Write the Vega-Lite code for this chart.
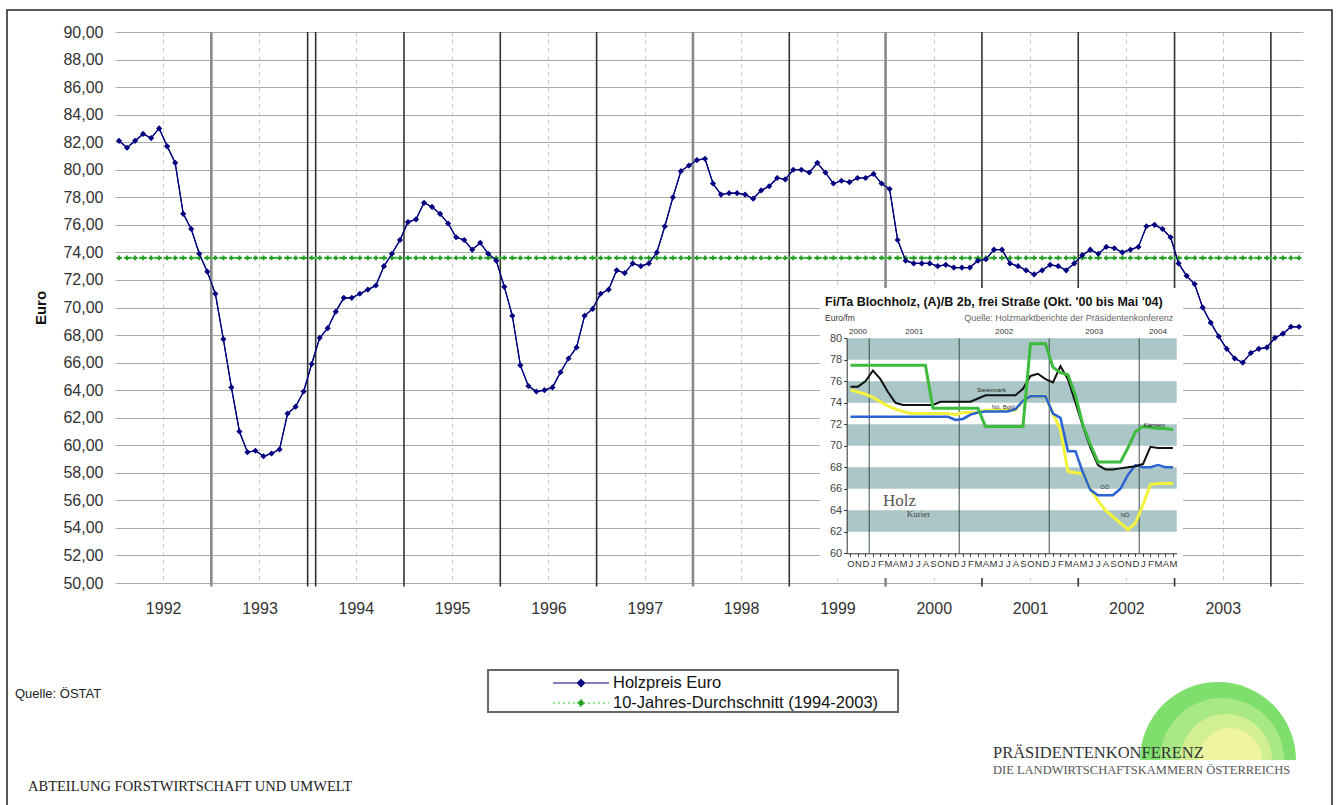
{
  "$schema": "https://vega.github.io/schema/vega-lite/v6.json",
  "width": 1188,
  "height": 551,
  "autosize": {"type": "none"},
  "padding": {"left": 115, "top": 32, "right": 37, "bottom": 222},
  "background": "white",
  "config": {"font": "Liberation Sans", "view": {"stroke": null}},
  "datasets": {
    "main": [
      {"n":0,"preis":82.1,"schnitt":73.6},{"n":1,"preis":81.6,"schnitt":73.6},{"n":2,"preis":82.1,"schnitt":73.6},{"n":3,"preis":82.6,"schnitt":73.6},{"n":4,"preis":82.3,"schnitt":73.6},{"n":5,"preis":83.0,"schnitt":73.6},{"n":6,"preis":81.7,"schnitt":73.6},{"n":7,"preis":80.5,"schnitt":73.6},{"n":8,"preis":76.8,"schnitt":73.6},{"n":9,"preis":75.7,"schnitt":73.6},{"n":10,"preis":73.9,"schnitt":73.6},{"n":11,"preis":72.6,"schnitt":73.6},
      {"n":12,"preis":71.0,"schnitt":73.6},{"n":13,"preis":67.7,"schnitt":73.6},{"n":14,"preis":64.2,"schnitt":73.6},{"n":15,"preis":61.0,"schnitt":73.6},{"n":16,"preis":59.5,"schnitt":73.6},{"n":17,"preis":59.6,"schnitt":73.6},{"n":18,"preis":59.2,"schnitt":73.6},{"n":19,"preis":59.4,"schnitt":73.6},{"n":20,"preis":59.7,"schnitt":73.6},{"n":21,"preis":62.3,"schnitt":73.6},{"n":22,"preis":62.8,"schnitt":73.6},{"n":23,"preis":63.9,"schnitt":73.6},
      {"n":24,"preis":65.9,"schnitt":73.6},{"n":25,"preis":67.8,"schnitt":73.6},{"n":26,"preis":68.5,"schnitt":73.6},{"n":27,"preis":69.7,"schnitt":73.6},{"n":28,"preis":70.7,"schnitt":73.6},{"n":29,"preis":70.7,"schnitt":73.6},{"n":30,"preis":71.0,"schnitt":73.6},{"n":31,"preis":71.3,"schnitt":73.6},{"n":32,"preis":71.6,"schnitt":73.6},{"n":33,"preis":73.0,"schnitt":73.6},{"n":34,"preis":73.9,"schnitt":73.6},{"n":35,"preis":74.9,"schnitt":73.6},
      {"n":36,"preis":76.2,"schnitt":73.6},{"n":37,"preis":76.4,"schnitt":73.6},{"n":38,"preis":77.6,"schnitt":73.6},{"n":39,"preis":77.3,"schnitt":73.6},{"n":40,"preis":76.8,"schnitt":73.6},{"n":41,"preis":76.1,"schnitt":73.6},{"n":42,"preis":75.1,"schnitt":73.6},{"n":43,"preis":74.9,"schnitt":73.6},{"n":44,"preis":74.2,"schnitt":73.6},{"n":45,"preis":74.7,"schnitt":73.6},{"n":46,"preis":73.9,"schnitt":73.6},{"n":47,"preis":73.4,"schnitt":73.6},
      {"n":48,"preis":71.5,"schnitt":73.6},{"n":49,"preis":69.4,"schnitt":73.6},{"n":50,"preis":65.8,"schnitt":73.6},{"n":51,"preis":64.3,"schnitt":73.6},{"n":52,"preis":63.9,"schnitt":73.6},{"n":53,"preis":64.0,"schnitt":73.6},{"n":54,"preis":64.2,"schnitt":73.6},{"n":55,"preis":65.3,"schnitt":73.6},{"n":56,"preis":66.3,"schnitt":73.6},{"n":57,"preis":67.1,"schnitt":73.6},{"n":58,"preis":69.4,"schnitt":73.6},{"n":59,"preis":69.9,"schnitt":73.6},
      {"n":60,"preis":71.0,"schnitt":73.6},{"n":61,"preis":71.3,"schnitt":73.6},{"n":62,"preis":72.7,"schnitt":73.6},{"n":63,"preis":72.5,"schnitt":73.6},{"n":64,"preis":73.2,"schnitt":73.6},{"n":65,"preis":73.0,"schnitt":73.6},{"n":66,"preis":73.2,"schnitt":73.6},{"n":67,"preis":74.0,"schnitt":73.6},{"n":68,"preis":75.9,"schnitt":73.6},{"n":69,"preis":78.0,"schnitt":73.6},{"n":70,"preis":79.9,"schnitt":73.6},{"n":71,"preis":80.3,"schnitt":73.6},
      {"n":72,"preis":80.7,"schnitt":73.6},{"n":73,"preis":80.8,"schnitt":73.6},{"n":74,"preis":79.0,"schnitt":73.6},{"n":75,"preis":78.2,"schnitt":73.6},{"n":76,"preis":78.3,"schnitt":73.6},{"n":77,"preis":78.3,"schnitt":73.6},{"n":78,"preis":78.2,"schnitt":73.6},{"n":79,"preis":77.9,"schnitt":73.6},{"n":80,"preis":78.5,"schnitt":73.6},{"n":81,"preis":78.8,"schnitt":73.6},{"n":82,"preis":79.4,"schnitt":73.6},{"n":83,"preis":79.3,"schnitt":73.6},
      {"n":84,"preis":80.0,"schnitt":73.6},{"n":85,"preis":80.0,"schnitt":73.6},{"n":86,"preis":79.8,"schnitt":73.6},{"n":87,"preis":80.5,"schnitt":73.6},{"n":88,"preis":79.8,"schnitt":73.6},{"n":89,"preis":79.0,"schnitt":73.6},{"n":90,"preis":79.2,"schnitt":73.6},{"n":91,"preis":79.1,"schnitt":73.6},{"n":92,"preis":79.4,"schnitt":73.6},{"n":93,"preis":79.4,"schnitt":73.6},{"n":94,"preis":79.7,"schnitt":73.6},{"n":95,"preis":79.0,"schnitt":73.6},
      {"n":96,"preis":78.6,"schnitt":73.6},{"n":97,"preis":74.9,"schnitt":73.6},{"n":98,"preis":73.4,"schnitt":73.6},{"n":99,"preis":73.2,"schnitt":73.6},{"n":100,"preis":73.2,"schnitt":73.6},{"n":101,"preis":73.2,"schnitt":73.6},{"n":102,"preis":73.0,"schnitt":73.6},{"n":103,"preis":73.1,"schnitt":73.6},{"n":104,"preis":72.9,"schnitt":73.6},{"n":105,"preis":72.9,"schnitt":73.6},{"n":106,"preis":72.9,"schnitt":73.6},{"n":107,"preis":73.4,"schnitt":73.6},
      {"n":108,"preis":73.5,"schnitt":73.6},{"n":109,"preis":74.2,"schnitt":73.6},{"n":110,"preis":74.2,"schnitt":73.6},{"n":111,"preis":73.2,"schnitt":73.6},{"n":112,"preis":73.0,"schnitt":73.6},{"n":113,"preis":72.7,"schnitt":73.6},{"n":114,"preis":72.4,"schnitt":73.6},{"n":115,"preis":72.7,"schnitt":73.6},{"n":116,"preis":73.1,"schnitt":73.6},{"n":117,"preis":73.0,"schnitt":73.6},{"n":118,"preis":72.7,"schnitt":73.6},{"n":119,"preis":73.2,"schnitt":73.6},
      {"n":120,"preis":73.8,"schnitt":73.6},{"n":121,"preis":74.2,"schnitt":73.6},{"n":122,"preis":73.9,"schnitt":73.6},{"n":123,"preis":74.4,"schnitt":73.6},{"n":124,"preis":74.3,"schnitt":73.6},{"n":125,"preis":74.0,"schnitt":73.6},{"n":126,"preis":74.2,"schnitt":73.6},{"n":127,"preis":74.4,"schnitt":73.6},{"n":128,"preis":75.9,"schnitt":73.6},{"n":129,"preis":76.0,"schnitt":73.6},{"n":130,"preis":75.7,"schnitt":73.6},{"n":131,"preis":75.1,"schnitt":73.6},
      {"n":132,"preis":73.2,"schnitt":73.6},{"n":133,"preis":72.3,"schnitt":73.6},{"n":134,"preis":71.7,"schnitt":73.6},{"n":135,"preis":70.0,"schnitt":73.6},{"n":136,"preis":68.9,"schnitt":73.6},{"n":137,"preis":67.9,"schnitt":73.6},{"n":138,"preis":67.0,"schnitt":73.6},{"n":139,"preis":66.3,"schnitt":73.6},{"n":140,"preis":66.0,"schnitt":73.6},{"n":141,"preis":66.7,"schnitt":73.6},{"n":142,"preis":67.0,"schnitt":73.6},{"n":143,"preis":67.1,"schnitt":73.6},
      {"n":144,"preis":67.8,"schnitt":73.6},{"n":145,"preis":68.1,"schnitt":73.6},{"n":146,"preis":68.6,"schnitt":73.6},{"n":147,"preis":68.6,"schnitt":73.6}
    ],
    "inset": [
      {"m":0,"gruen":77.5,"schwarz":75.5,"blau":72.7,"gelb":75.2},{"m":1,"gruen":77.5,"schwarz":75.5,"blau":72.7,"gelb":75.0},{"m":2,"gruen":77.5,"schwarz":76.0,"blau":72.7,"gelb":74.8},{"m":3,"gruen":77.5,"schwarz":77.0,"blau":72.7,"gelb":74.5},{"m":4,"gruen":77.5,"schwarz":76.2,"blau":72.7,"gelb":74.1},{"m":5,"gruen":77.5,"schwarz":75.0,"blau":72.7,"gelb":73.7},{"m":6,"gruen":77.5,"schwarz":74.0,"blau":72.7,"gelb":73.4},{"m":7,"gruen":77.5,"schwarz":73.8,"blau":72.7,"gelb":73.2},{"m":8,"gruen":77.5,"schwarz":73.8,"blau":72.7,"gelb":73.0},{"m":9,"gruen":77.5,"schwarz":73.8,"blau":72.7,"gelb":73.0},{"m":10,"gruen":77.5,"schwarz":73.8,"blau":72.7,"gelb":73.0},
      {"m":11,"gruen":73.5,"schwarz":73.8,"blau":72.7,"gelb":73.0},{"m":12,"gruen":73.5,"schwarz":74.1,"blau":72.7,"gelb":73.0},{"m":13,"gruen":73.5,"schwarz":74.1,"blau":72.7,"gelb":73.0},{"m":14,"gruen":73.5,"schwarz":74.1,"blau":72.4,"gelb":72.9},{"m":15,"gruen":73.5,"schwarz":74.1,"blau":72.5,"gelb":73.1},{"m":16,"gruen":73.5,"schwarz":74.1,"blau":72.9,"gelb":73.1},{"m":17,"gruen":73.5,"schwarz":74.4,"blau":73.1,"gelb":73.1},
      {"m":18,"gruen":71.8,"schwarz":74.7,"blau":73.2,"gelb":73.3},{"m":19,"gruen":71.8,"schwarz":74.7,"blau":73.2,"gelb":73.3},{"m":20,"gruen":71.8,"schwarz":74.7,"blau":73.2,"gelb":73.3},{"m":21,"gruen":71.8,"schwarz":74.7,"blau":73.2,"gelb":73.3},{"m":22,"gruen":71.8,"schwarz":74.7,"blau":73.4,"gelb":73.3},{"m":23,"gruen":71.8,"schwarz":75.3,"blau":74.2,"gelb":74.2},
      {"m":24,"gruen":79.5,"schwarz":76.5,"blau":74.6,"gelb":74.6},{"m":25,"gruen":79.5,"schwarz":76.7,"blau":74.6,"gelb":74.6},{"m":26,"gruen":79.5,"schwarz":76.2,"blau":74.6,"gelb":74.6},{"m":27,"gruen":77.3,"schwarz":75.9,"blau":73.0,"gelb":73.0},{"m":28,"gruen":76.8,"schwarz":77.4,"blau":72.6,"gelb":71.5},{"m":29,"gruen":76.6,"schwarz":76.2,"blau":69.5,"gelb":67.6},{"m":30,"gruen":74.7,"schwarz":74.0,"blau":69.5,"gelb":67.5},
      {"m":31,"gruen":71.9,"schwarz":71.8,"blau":67.5,"gelb":67.4},{"m":32,"gruen":70.1,"schwarz":69.8,"blau":65.9,"gelb":66.0},{"m":33,"gruen":68.5,"schwarz":68.2,"blau":65.4,"gelb":64.9},{"m":34,"gruen":68.5,"schwarz":67.8,"blau":65.4,"gelb":64.0},{"m":35,"gruen":68.5,"schwarz":67.8,"blau":65.4,"gelb":63.4},{"m":36,"gruen":68.5,"schwarz":67.9,"blau":66.0,"gelb":62.8},{"m":37,"gruen":69.8,"schwarz":68.0,"blau":67.3,"gelb":62.2},
      {"m":38,"gruen":71.3,"schwarz":68.1,"blau":68.2,"gelb":62.8},{"m":39,"gruen":71.8,"schwarz":68.3,"blau":68.0,"gelb":64.5},{"m":40,"gruen":71.7,"schwarz":69.9,"blau":68.0,"gelb":66.4},{"m":41,"gruen":71.6,"schwarz":69.8,"blau":68.2,"gelb":66.5},{"m":42,"gruen":71.6,"schwarz":69.8,"blau":68.0,"gelb":66.5},{"m":43,"gruen":71.5,"schwarz":69.8,"blau":68.0,"gelb":66.5}
    ]
  },
  "layer": [
    {
      "layer": [
        {
          "data": {"name": "main"},
          "mark": {"type": "line", "strokeWidth": 1.2},
          "encoding": {
            "x": {
              "field": "n", "type": "quantitative",
              "scale": {"domain": [-0.5, 147.5], "nice": false, "zero": false},
              "axis": {
                "values": [5.5, 17.5, 29.5, 41.5, 53.5, 65.5, 77.5, 89.5, 101.5, 113.5, 125.5, 137.5],
                "tickCount": 100,
                "labelExpr": "'' + (1992 + floor(datum.value / 12))",
                "grid": true, "gridDash": [4, 4], "gridColor": "#c8c8c8",
                "ticks": false, "tickSize": 0, "domain": false, "labelOverlap": false,
                "labelPadding": 17, "labelFontSize": 16, "labelColor": "#333",
                "title": null
              }
            },
            "y": {
              "field": "preis", "type": "quantitative",
              "scale": {"domain": [50, 90], "nice": false, "zero": false},
              "axis": {
                "values": [50, 52, 54, 56, 58, 60, 62, 64, 66, 68, 70, 72, 74, 76, 78, 80, 82, 84, 86, 88, 90],
                "tickCount": 100,
                "labelExpr": "replace(format(datum.value, '.2f'), '.', ',')",
                "grid": true, "gridColor": "#aaaaaa",
                "ticks": false, "tickSize": 0, "domain": false, "labelOverlap": false,
                "labelPadding": 12, "labelFontSize": 16, "labelColor": "#333",
                "title": "Euro", "titleFontSize": 15, "titleFontWeight": "bold", "titleColor": "#111", "titlePadding": 14
              }
            },
            "color": {
              "datum": "Holzpreis Euro", "type": "nominal",
              "scale": {"domain": ["Holzpreis Euro", "10-Jahres-Durchschnitt (1994-2003)"], "range": ["#000080", "#33cc33"]},
              "legend": {
                "orient": "none", "legendX": 457, "legendY": 642, "title": null, "padding": 0,
                "symbolType": "M-3.5,0H3.5M0,-0.45L0.45,0L0,0.45L-0.45,0Z",
                "symbolSize": 256, "symbolStrokeWidth": 1.2,
                "labelFontSize": 16.5, "labelOffset": 23, "rowPadding": 2, "labelColor": "#111", "labelLimit": 500,
                "encode": {
                  "symbols": {
                    "update": {
                      "fill": {"signal": "datum.value === 'Holzpreis Euro' ? '#000080' : '#2a9a2a'"},
                      "strokeDash": {"signal": "datum.value === 'Holzpreis Euro' ? [1, 0] : [2, 3]"}
                    }
                  }
                }
              }
            }
          }
        },
        {
          "data": {"values": [{}]},
          "mark": {"type": "rect", "filled": false, "color": "#222", "strokeWidth": 1.5},
          "encoding": {
            "x": {"datum": -13.955, "type": "quantitative"},
            "x2": {"datum": 151.11},
            "y": {"datum": 91.597, "type": "quantitative"},
            "y2": {"datum": 32.07}
          }
        },
        {
          "data": {"values": [{}]},
          "mark": {"type": "rect", "filled": false, "color": "#666", "strokeWidth": 2},
          "encoding": {
            "x": {"datum": 45.97, "type": "quantitative"},
            "x2": {"datum": 97.05},
            "y": {"datum": 43.68, "type": "quantitative"},
            "y2": {"datum": 40.64}
          }
        },
        {
          "data": {"values": [{"grenze": 23.5}, {"grenze": 24.5}, {"grenze": 35.5}, {"grenze": 47.5}, {"grenze": 59.5}, {"grenze": 83.5}, {"grenze": 107.5}, {"grenze": 119.5}, {"grenze": 131.5}, {"grenze": 143.5}]},
          "mark": {"type": "rule", "color": "#333", "strokeWidth": 1.6},
          "encoding": {
            "x": {"field": "grenze", "type": "quantitative"},
            "y": {"datum": 90, "type": "quantitative"},
            "y2": {"datum": 49.75}
          }
        },
        {
          "data": {"values": [{"grenze": 11.5}, {"grenze": 71.5}, {"grenze": 95.5}]},
          "mark": {"type": "rule", "color": "#8a8a8a", "strokeWidth": 2.6},
          "encoding": {
            "x": {"field": "grenze", "type": "quantitative"},
            "y": {"datum": 90, "type": "quantitative"},
            "y2": {"datum": 49.75}
          }
        },
        {
          "data": {"name": "main"},
          "mark": {"type": "line", "strokeWidth": 2.2, "strokeDash": [3, 2]},
          "encoding": {
            "x": {"field": "n", "type": "quantitative"},
            "y": {"field": "schnitt", "type": "quantitative"},
            "color": {"datum": "10-Jahres-Durchschnitt (1994-2003)", "type": "nominal"}
          }
        },
        {
          "data": {"name": "main"},
          "mark": {"type": "point", "shape": "cross", "filled": true, "color": "#2a9a2a", "size": 24, "opacity": 1},
          "encoding": {
            "x": {"field": "n", "type": "quantitative"},
            "y": {"field": "schnitt", "type": "quantitative"}
          }
        },
        {
          "data": {"name": "main"},
          "mark": {"type": "line", "strokeWidth": 1.2, "color": "#000080"},
          "encoding": {
            "x": {"field": "n", "type": "quantitative"},
            "y": {"field": "preis", "type": "quantitative"}
          }
        },
        {
          "data": {"name": "main"},
          "mark": {"type": "point", "shape": "diamond", "filled": true, "color": "#000080", "size": 38, "opacity": 1},
          "encoding": {
            "x": {"field": "n", "type": "quantitative"},
            "y": {"field": "preis", "type": "quantitative"}
          }
        },
        {
          "data": {"values": [{}]},
          "mark": {"type": "arc", "theta": -1.5708, "theta2": 1.5708, "radius": 78, "color": "#7fdf6c"},
          "encoding": {"x": {"datum": 136.91, "type": "quantitative"}, "y": {"datum": 37.15, "type": "quantitative"}}
        },
        {
          "data": {"values": [{}]},
          "mark": {"type": "arc", "theta": -1.5708, "theta2": 1.5708, "radius": 62, "color": "#a9e985"},
          "encoding": {"x": {"datum": 137.41, "type": "quantitative"}, "y": {"datum": 37.15, "type": "quantitative"}}
        },
        {
          "data": {"values": [{}]},
          "mark": {"type": "arc", "theta": -1.5708, "theta2": 1.5708, "radius": 46, "color": "#d2ef92"},
          "encoding": {"x": {"datum": 137.91, "type": "quantitative"}, "y": {"datum": 37.15, "type": "quantitative"}}
        },
        {
          "data": {"values": [{}]},
          "mark": {"type": "arc", "theta": -1.5708, "theta2": 1.5708, "radius": 32, "color": "#eef4a0"},
          "encoding": {"x": {"datum": 138.41, "type": "quantitative"}, "y": {"datum": 37.15, "type": "quantitative"}}
        },
        {
          "data": {"values": [{}]},
          "mark": {"type": "text", "text": "Quelle: ÖSTAT", "align": "left", "baseline": "middle", "fontSize": 13, "color": "#222"},
          "encoding": {"x": {"datum": -12.96, "type": "quantitative"}, "y": {"datum": 41.94, "type": "quantitative"}}
        },
        {
          "data": {"values": [{}]},
          "mark": {"type": "text", "text": "ABTEILUNG FORSTWIRTSCHAFT UND UMWELT", "align": "left", "baseline": "middle", "fontSize": 14.5, "font": "Liberation Serif", "color": "#222"},
          "encoding": {"x": {"datum": -11.34, "type": "quantitative"}, "y": {"datum": 35.19, "type": "quantitative"}}
        },
        {
          "data": {"values": [{}]},
          "mark": {"type": "text", "text": "PRÄSIDENTENKONFERENZ", "align": "left", "baseline": "middle", "fontSize": 16.5, "font": "Liberation Serif", "color": "#333"},
          "encoding": {"x": {"datum": 108.88, "type": "quantitative"}, "y": {"datum": 37.66, "type": "quantitative"}}
        },
        {
          "data": {"values": [{}]},
          "mark": {"type": "text", "text": "DIE LANDWIRTSCHAFTSKAMMERN ÖSTERREICHS", "align": "left", "baseline": "middle", "fontSize": 12.5, "font": "Liberation Serif", "color": "#555"},
          "encoding": {"x": {"datum": 108.88, "type": "quantitative"}, "y": {"datum": 36.42, "type": "quantitative"}}
        }
      ]
    },
    {
      "layer": [
        {
          "data": {"name": "inset"},
          "mark": {"type": "line", "color": "#f2f23a", "strokeWidth": 3, "opacity": 0},
          "encoding": {
            "x": {
              "field": "m", "type": "quantitative",
              "scale": {"domain": [-0.5, 43.5], "range": [731.7, 1061.7], "nice": false, "zero": false},
              "axis": {
                "orient": "bottom", "offset": -29.7,
                "values": [0,1,2,3,4,5,6,7,8,9,10,11,12,13,14,15,16,17,18,19,20,21,22,23,24,25,26,27,28,29,30,31,32,33,34,35,36,37,38,39,40,41,42,43],
                "tickCount": 100,
                "labelExpr": "substring('ONDJFMAMJJAS', datum.value % 12, datum.value % 12 + 1)",
                "labelFontSize": 9.5, "labelPadding": 2, "tickSize": 3, "tickColor": "#333", "domainColor": "#333",
                "labelOverlap": false, "labelBound": false, "labelFlush": false, "labelColor": "#333",
                "grid": false, "title": null, "zindex": 1
              }
            },
            "y": {
              "field": "gelb", "type": "quantitative",
              "scale": {"domain": [60, 80], "range": [521.3, 306.3], "nice": false, "zero": false},
              "axis": {
                "orient": "left", "offset": -731.7,
                "values": [60, 62, 64, 66, 68, 70, 72, 74, 76, 78, 80],
                "format": "d",
                "tickCount": 100, "labelOverlap": false,
                "labelFontSize": 11, "labelPadding": 2, "tickSize": 3, "tickColor": "#333", "domainColor": "#333",
                "labelColor": "#444", "grid": false, "title": null, "zindex": 1
              }
            }
          }
        },
        {
          "data": {"values": [{}]},
          "mark": {"type": "rect", "color": "white"},
          "encoding": {
            "x": {"datum": -4.06, "type": "quantitative"},
            "x2": {"datum": 44.34},
            "y": {"datum": 84.68, "type": "quantitative"},
            "y2": {"datum": 57.7}
          }
        },
        {
          "data": {"values": [{"von": 62, "bis": 64}, {"von": 66, "bis": 68}, {"von": 70, "bis": 72}, {"von": 74, "bis": 76}, {"von": 78, "bis": 80}]},
          "mark": {"type": "rect", "color": "#abc6c6"},
          "encoding": {
            "x": {"datum": -0.5, "type": "quantitative"},
            "x2": {"datum": 43.5},
            "y": {"field": "von", "type": "quantitative"},
            "y2": {"field": "bis"}
          }
        },
        {
          "data": {"values": [{"m": 2.5}, {"m": 14.5}, {"m": 26.5}, {"m": 38.5}]},
          "mark": {"type": "rule", "color": "#3d4d4d", "strokeWidth": 1},
          "encoding": {
            "x": {"field": "m", "type": "quantitative"},
            "y": {"datum": 60, "type": "quantitative"},
            "y2": {"datum": 80}
          }
        },
        {
          "data": {"name": "inset"},
          "mark": {"type": "line", "color": "#f2f23a", "strokeWidth": 3},
          "encoding": {
            "x": {"field": "m", "type": "quantitative"},
            "y": {"field": "gelb", "type": "quantitative"}
          }
        },
        {
          "data": {"name": "inset"},
          "mark": {"type": "line", "color": "#2a63d4", "strokeWidth": 2.5},
          "encoding": {
            "x": {"field": "m", "type": "quantitative"},
            "y": {"field": "blau", "type": "quantitative"}
          }
        },
        {
          "data": {"name": "inset"},
          "mark": {"type": "line", "color": "#111", "strokeWidth": 2},
          "encoding": {
            "x": {"field": "m", "type": "quantitative"},
            "y": {"field": "schwarz", "type": "quantitative"}
          }
        },
        {
          "data": {"name": "inset"},
          "mark": {"type": "line", "color": "#3dbb3d", "strokeWidth": 3},
          "encoding": {
            "x": {"field": "m", "type": "quantitative"},
            "y": {"field": "gruen", "type": "quantitative"}
          }
        },
        {
          "data": {"values": [{}]},
          "mark": {"type": "text", "text": "Fi/Ta Blochholz, (A)/B 2b, frei Straße (Okt. '00 bis Mai '04)", "align": "left", "baseline": "middle", "fontSize": 12.5, "fontWeight": "bold", "color": "#111"},
          "encoding": {"x": {"datum": -3.39, "type": "quantitative"}, "y": {"datum": 83.4, "type": "quantitative"}}
        },
        {
          "data": {"values": [{}]},
          "mark": {"type": "text", "text": "Euro/fm", "align": "left", "baseline": "middle", "fontSize": 8.5, "color": "#333"},
          "encoding": {"x": {"datum": -3.39, "type": "quantitative"}, "y": {"datum": 81.86, "type": "quantitative"}}
        },
        {
          "data": {"values": [{}]},
          "mark": {"type": "text", "text": "Quelle: Holzmarktberichte der Präsidentenkonferenz", "align": "right", "baseline": "middle", "fontSize": 9, "color": "#666"},
          "encoding": {"x": {"datum": 43.05, "type": "quantitative"}, "y": {"datum": 81.86, "type": "quantitative"}}
        },
        {
          "data": {"values": [{"jahr": "2000", "m": 1}, {"jahr": "2001", "m": 8.5}, {"jahr": "2002", "m": 20.5}, {"jahr": "2003", "m": 32.5}, {"jahr": "2004", "m": 41}]},
          "mark": {"type": "text", "align": "center", "baseline": "middle", "fontSize": 8, "color": "#333"},
          "encoding": {
            "x": {"field": "m", "type": "quantitative"},
            "y": {"datum": 80.6, "type": "quantitative"},
            "text": {"field": "jahr"}
          }
        },
        {
          "data": {"values": [{}]},
          "mark": {"type": "text", "text": "Steiermark", "align": "center", "baseline": "middle", "fontSize": 6, "color": "#222"},
          "encoding": {"x": {"datum": 18.8, "type": "quantitative"}, "y": {"datum": 75.2, "type": "quantitative"}}
        },
        {
          "data": {"values": [{}]},
          "mark": {"type": "text", "text": "Nö, Bgld.", "align": "center", "baseline": "middle", "fontSize": 6, "color": "#333"},
          "encoding": {"x": {"datum": 20.5, "type": "quantitative"}, "y": {"datum": 73.64, "type": "quantitative"}}
        },
        {
          "data": {"values": [{}]},
          "mark": {"type": "text", "text": "Kärnten", "align": "center", "baseline": "middle", "fontSize": 6, "color": "#222"},
          "encoding": {"x": {"datum": 40.5, "type": "quantitative"}, "y": {"datum": 71.95, "type": "quantitative"}}
        },
        {
          "data": {"values": [{}]},
          "mark": {"type": "text", "text": "OÖ", "align": "center", "baseline": "middle", "fontSize": 6, "color": "#333"},
          "encoding": {"x": {"datum": 33.9, "type": "quantitative"}, "y": {"datum": 66.2, "type": "quantitative"}}
        },
        {
          "data": {"values": [{}]},
          "mark": {"type": "text", "text": "NÖ", "align": "center", "baseline": "middle", "fontSize": 6, "color": "#333"},
          "encoding": {"x": {"datum": 36.6, "type": "quantitative"}, "y": {"datum": 63.56, "type": "quantitative"}}
        },
        {
          "data": {"values": [{}]},
          "mark": {"type": "text", "text": "Holz", "align": "left", "baseline": "middle", "fontSize": 17, "font": "Liberation Serif", "color": "#555"},
          "encoding": {"x": {"datum": 4.34, "type": "quantitative"}, "y": {"datum": 64.9, "type": "quantitative"}}
        },
        {
          "data": {"values": [{}]},
          "mark": {"type": "text", "text": "Kurier", "align": "left", "baseline": "middle", "fontSize": 9, "font": "Liberation Serif", "color": "#444"},
          "encoding": {"x": {"datum": 7.5, "type": "quantitative"}, "y": {"datum": 63.7, "type": "quantitative"}}
        }
      ]
    }
  ],
  "resolve": {"scale": {"x": "independent", "y": "independent"}}
}
